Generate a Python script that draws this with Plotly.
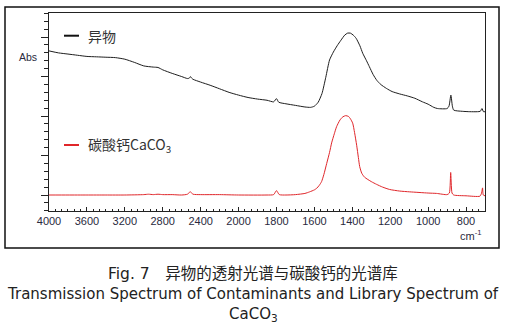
import numpy as np
import plotly.graph_objects as go

# ---- data ----
black_wn = [4000, 3900, 3800, 3700, 3600, 3500, 3400, 3300, 3200, 3100, 3000, 2900, 2850, 2800,
            2700, 2600, 2540, 2520, 2508, 2495, 2480, 2400, 2300, 2200, 2100, 2000, 1950, 1900,
            1850, 1815, 1800, 1788, 1750, 1700, 1650, 1620, 1600, 1580, 1560, 1540, 1520, 1500,
            1480, 1460, 1440, 1425, 1410, 1395, 1380, 1360, 1345, 1325, 1310, 1290, 1270, 1250,
            1220, 1190, 1150, 1110, 1070, 1030, 1000, 970, 950, 900, 890, 880, 872, 865, 820,
            780, 740, 725, 716, 708, 700]
black_abs = [3.65, 3.60, 3.57, 3.54, 3.51, 3.50, 3.49, 3.48, 3.44, 3.36, 3.27, 3.24, 3.23, 3.17,
             3.08, 3.00, 2.95, 2.96, 3.00, 2.96, 2.93, 2.86, 2.78, 2.69, 2.60, 2.53, 2.47, 2.43,
             2.40, 2.36, 2.44, 2.35, 2.31, 2.27, 2.23, 2.22, 2.25, 2.35, 2.57, 2.98, 3.42, 3.62,
             3.78, 3.92, 4.05, 4.10, 4.10, 4.05, 3.97, 3.78, 3.59, 3.40, 3.25, 3.05, 2.90, 2.80,
             2.70, 2.62, 2.56, 2.51, 2.45, 2.36, 2.30, 2.22, 2.19, 2.19, 2.25, 2.53, 2.25, 2.15, 2.12,
             2.11, 2.11, 2.12, 2.19, 2.11, 2.11]

red_wn = [4000, 3800, 3600, 3400, 3200, 3000, 2950, 2900, 2850, 2800, 2700, 2600, 2540, 2510,
          2480, 2400, 2200, 2000, 1850, 1815, 1800, 1785, 1750, 1700, 1650, 1625, 1600, 1588,
          1575, 1562, 1550, 1535, 1520, 1509, 1495, 1483, 1465, 1450, 1435, 1420, 1410, 1398,
          1388, 1377, 1368, 1361, 1350, 1335, 1300, 1272, 1240, 1203, 1150, 1097, 1000, 955,
          900, 888, 881, 874, 865, 800, 727, 718, 713, 709, 700]
red_abs = [0.0, 0.0, 0.0, 0.0, 0.0, 0.01, 0.02, 0.01, 0.02, 0.01, 0.01, 0.0, 0.02, 0.08,
           0.02, 0.01, 0.01, 0.0, 0.0, 0.01, 0.11, 0.01, 0.0, 0.01, 0.04, 0.08, 0.13, 0.17,
           0.24, 0.34, 0.52, 0.80, 1.08, 1.32, 1.55, 1.73, 1.90, 1.98, 2.01, 1.99, 1.93, 1.82,
           1.58, 1.26, 0.95, 0.72, 0.55, 0.45, 0.34, 0.27, 0.20, 0.14, 0.10, 0.08, 0.05, 0.04,
           0.01, 0.05, 0.57, 0.05, 0.0, -0.02, -0.03, 0.05, 0.18, 0.0, -0.02]

x_tick_labels = [4000, 3600, 3200, 2800, 2400, 2000, 1800, 1600, 1400, 1200, 1000, 800]
y_major_ticks = [0, 1, 2, 3, 4]

series_names = ["异物", "碳酸钙CaCO<sub>3</sub>"]


# axis scale changes at 2000 cm-1 (upper range compressed by half)
def wn_to_axis(w):
    w = np.asarray(w, dtype=float)
    return np.where(w <= 2000, w, 2000 + (w - 2000) / 2.0)


W, H = 507, 327
L, R, T, B = 49, 485, 13, 211  # plot area in pixels


def px(x):
    return (x - L) / (R - L)


def py(y):
    return (B - y) / (B - T)


fig = go.Figure()
fig.add_trace(go.Scatter(x=wn_to_axis(black_wn), y=black_abs, mode="lines",
                         line=dict(color="#1e1e1e", width=1, shape="spline", smoothing=0.6),
                         showlegend=False))
fig.add_trace(go.Scatter(x=wn_to_axis(red_wn), y=red_abs, mode="lines",
                         line=dict(color="#e0262a", width=1, shape="spline", smoothing=0.6),
                         showlegend=False))

major_u = wn_to_axis(x_tick_labels)
minor_u = []
for a, b in zip(major_u[:-1], major_u[1:]):
    for k in range(1, 6):
        minor_u.append(a + (b - a) * k / 6)
minor_u += [major_u[-1] - (major_u[0] - major_u[1]) / 6 * k for k in (1, 2)]

tick_font = dict(family="Liberation Sans, Arial, sans-serif", size=11, color="#2a2a40")

fig.update_layout(
    width=W, height=H,
    margin=dict(l=L, r=W - R, t=T, b=H - B),
    paper_bgcolor="white", plot_bgcolor="white",
    xaxis=dict(range=[3000, 700], tickmode="array", tickvals=list(major_u),
               ticktext=[str(v) for v in x_tick_labels], ticks="inside", ticklen=4,
               tickcolor="#222", tickwidth=1, showgrid=False, zeroline=False,
               showline=True, linecolor="#222", linewidth=1, mirror=True,
               tickfont=tick_font,
               minor=dict(tickmode="array", tickvals=minor_u, ticks="inside", ticklen=2,
                          tickcolor="#222", showgrid=False)),
    yaxis=dict(range=[-0.405, 4.61], tickmode="array", tickvals=y_major_ticks,
               showticklabels=False, ticks="outside", ticklen=7, tickcolor="#222",
               tickwidth=1, showgrid=False, zeroline=False, showline=True,
               linecolor="#222", linewidth=1, mirror=True,
               minor=dict(dtick=0.2, tick0=0, ticks="outside", ticklen=4,
                          tickcolor="#222", showgrid=False)),
)

# outer frame
fig.add_shape(type="rect", xref="paper", yref="paper", x0=px(5), x1=px(499), y0=py(248), y1=py(7),
              line=dict(color="#111", width=1.5), layer="below")

# in-plot legend marks
for yy, col in ((35.7, "#111"), (145, "#e0262a")):
    fig.add_shape(type="line", xref="paper", yref="paper", x0=px(64), x1=px(79), y0=py(yy), y1=py(yy),
                  line=dict(color=col, width=2))

lab_font = dict(family="Noto Sans CJK SC, Liberation Sans, sans-serif", size=14, color="#333")
fig.add_annotation(xref="paper", yref="paper", x=px(86), y=py(35.7), text=series_names[0],
                   showarrow=False, xanchor="left", yanchor="middle", font=lab_font)
fig.add_annotation(xref="paper", yref="paper", x=px(86), y=py(145), text=series_names[1],
                   showarrow=False, xanchor="left", yanchor="middle", font=lab_font)

fig.add_annotation(xref="paper", yref="paper", x=px(39), y=py(57), text="Abs", showarrow=False,
                   xanchor="right", yanchor="middle",
                   font=dict(family="Liberation Sans, Arial", size=10.5, color="#2a2a40"))
fig.add_annotation(xref="paper", yref="paper", x=px(471), y=py(235), text="cm<sup>-1</sup>",
                   showarrow=False, xanchor="center", yanchor="middle",
                   font=dict(family="Liberation Sans, Arial", size=11, color="#2a2a40"))

cap_font = dict(family="DejaVu Sans, Noto Sans CJK SC, sans-serif", size=15, color="#222")
fig.add_annotation(xref="paper", yref="paper", x=px(253), y=py(272),
                   text="Fig. 7　<span style='font-family:Noto Sans CJK SC'>异物的透射光谱与碳酸钙的光谱库</span>",
                   showarrow=False, xanchor="center", yanchor="middle",
                   font=dict(family="DejaVu Sans, Noto Sans CJK SC, sans-serif", size=15.5, color="#222"))
fig.add_annotation(xref="paper", yref="paper", x=px(253), y=py(294),
                   text="Transmission Spectrum of Contaminants and Library Spectrum of",
                   showarrow=False, xanchor="center", yanchor="middle", font=cap_font)
fig.add_annotation(xref="paper", yref="paper", x=px(253), y=py(314), text="CaCO<sub>3</sub>",
                   showarrow=False, xanchor="center", yanchor="middle", font=cap_font)

fig.write_html("out.html")
